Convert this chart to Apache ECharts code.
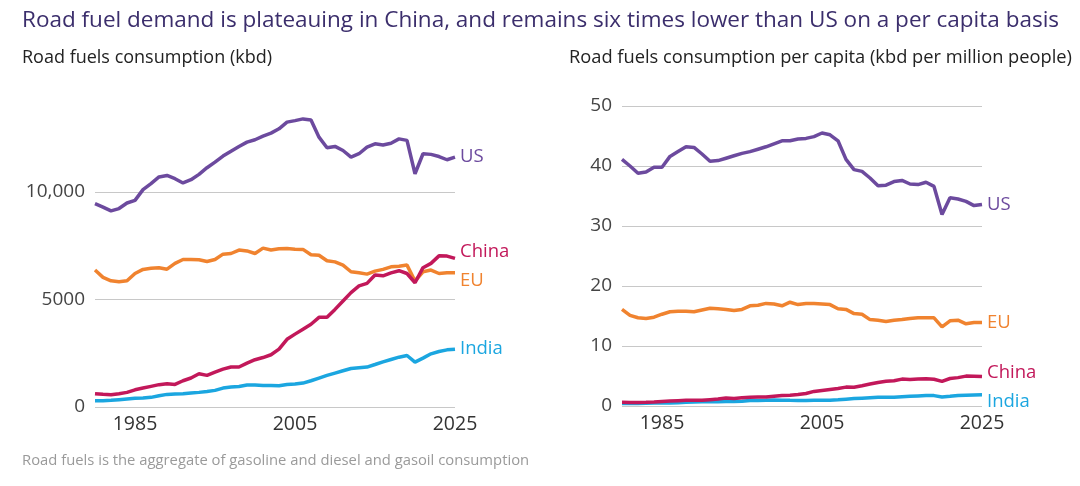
<!DOCTYPE html>
<html>
<head>
<meta charset="utf-8">
<script src="https://cdn.jsdelivr.net/npm/echarts@6/dist/echarts.min.js"></script>
<style>
html,body{margin:0;padding:0;background:#fff;}
#c{width:1080px;height:486px;}
</style>
</head>
<body>
<div id="c"></div>
<script>
var years = [];
for (var y = 1980; y <= 2025; y++) years.push(String(y));
var xTickLabels = ['1985', '2005', '2025'];
var leftYTicks = [0, 5000, 10000];
var rightYTicks = [0, 10, 20, 30, 40, 50];

// Road fuels consumption (kbd)
var usKbd = [9460,9300,9120,9230,9490,9610,10110,10390,10700,10770,10620,10420,10570,10820,11130,11390,11670,11900,12120,12320,12430,12600,12740,12940,13250,13320,13400,13350,12550,12060,12120,11930,11620,11780,12090,12240,12190,12270,12470,12400,10850,11780,11750,11650,11500,11620];
var euKbd = [6370,6030,5870,5830,5870,6210,6400,6450,6480,6410,6680,6860,6860,6850,6770,6860,7110,7140,7300,7260,7140,7390,7300,7360,7370,7340,7330,7080,7060,6800,6750,6600,6290,6240,6180,6320,6400,6520,6550,6600,5860,6290,6370,6210,6240,6240];
var chinaKbd = [620,590,570,620,680,800,880,960,1040,1080,1050,1220,1350,1550,1470,1620,1760,1860,1860,2040,2200,2300,2430,2690,3150,3390,3620,3850,4170,4170,4540,4930,5320,5630,5750,6140,6100,6240,6340,6210,5780,6480,6680,7030,7020,6910];
var indiaKbd = [294,294,309,340,371,402,417,448,525,587,603,618,649,680,726,773,881,927,958,1020,1020,1005,1005,989,1051,1066,1113,1221,1345,1468,1577,1685,1793,1824,1855,1978,2102,2210,2318,2396,2087,2272,2473,2581,2658,2689];

// Road fuels consumption per capita (kbd per million people)
var usPc = [41.1,40.0,38.8,39.0,39.8,39.8,41.6,42.4,43.2,43.1,42.0,40.8,40.9,41.3,41.7,42.1,42.4,42.8,43.2,43.7,44.2,44.2,44.5,44.6,44.9,45.5,45.2,44.2,41.1,39.4,39.1,38.0,36.7,36.8,37.4,37.6,37.0,36.9,37.3,36.6,31.9,34.7,34.5,34.1,33.4,33.6];
var euPc = [16.1,15.1,14.7,14.6,14.8,15.3,15.7,15.8,15.8,15.7,16.0,16.3,16.2,16.1,15.9,16.1,16.7,16.8,17.1,17.0,16.7,17.3,16.9,17.1,17.1,17.0,16.9,16.2,16.1,15.4,15.3,14.4,14.3,14.1,14.3,14.4,14.6,14.7,14.7,14.7,13.2,14.2,14.3,13.7,13.9,13.9];
var chinaPc = [0.62,0.60,0.60,0.62,0.66,0.76,0.82,0.88,0.94,0.97,0.94,1.05,1.15,1.32,1.24,1.36,1.45,1.50,1.50,1.63,1.74,1.81,1.90,2.08,2.43,2.60,2.76,2.92,3.15,3.13,3.39,3.66,3.93,4.14,4.22,4.48,4.43,4.51,4.56,4.45,4.10,4.58,4.73,4.98,4.97,4.90];
var indiaPc = [0.42,0.41,0.42,0.45,0.48,0.51,0.52,0.54,0.62,0.68,0.69,0.69,0.71,0.73,0.77,0.80,0.90,0.93,0.94,0.98,0.97,0.94,0.92,0.90,0.94,0.94,0.97,1.05,1.14,1.23,1.30,1.37,1.44,1.45,1.45,1.53,1.61,1.68,1.74,1.73,1.50,1.62,1.75,1.80,1.84,1.86];

var colors = {US:'#6c4a9e', China:'#c2185a', EU:'#f0832f', India:'#1ba6e0'};
var FONT = '"Open Sans", "Noto Sans", sans-serif';

function mkSeries(name, data, axisIdx, dy) {
  return {
    type: 'line', name: name, data: data,
    xAxisIndex: axisIdx, yAxisIndex: axisIdx,
    showSymbol: false, symbol: 'none', clip: false, smooth: false,
    lineStyle: {color: colors[name], width: 3.5},
    itemStyle: {color: colors[name]},
    endLabel: {show: true, formatter: name, color: colors[name], fontSize: 18.5,
      fontFamily: FONT, distance: 5, offset: [0, dy]},
    emphasis: {disabled: true},
    animation: false
  };
}

function xAxisCfg(idx) {
  return {
    type: 'category', gridIndex: idx, data: years, boundaryGap: false,
    axisLine: {show: false}, axisTick: {show: false},
    axisLabel: {
      color: '#333', fontSize: 19.5, fontFamily: FONT, margin: 7,
      interval: function (i, v) { return xTickLabels.indexOf(v) >= 0; }
    },
    splitLine: {show: false}
  };
}

function yAxisCfg(idx, ticks, fmt) {
  return {
    type: 'value', gridIndex: idx,
    min: ticks[0], max: ticks[ticks.length - 1], interval: ticks[1] - ticks[0],
    axisLine: {show: false}, axisTick: {show: false},
    axisLabel: {color: '#444', fontSize: 19, fontFamily: FONT, margin: 10, formatter: fmt},
    splitLine: {show: true, lineStyle: {color: '#c8c8c8', width: 1}}
  };
}

var chart = echarts.init(document.getElementById('c'), null, {renderer: 'canvas'});
chart.setOption({
  backgroundColor: '#fff',
  animation: false,
  title: [
    {text: 'Road fuel demand is plateauing in China, and remains six times lower than US on a per capita basis',
      left: 17, top: 4, textStyle: {color: '#3b2e6c', fontSize: 22.5, fontWeight: 500, fontFamily: FONT}},
    {text: 'Road fuels consumption (kbd)', left: 17, top: 44,
      textStyle: {color: '#222', fontSize: 18, fontWeight: 'normal', fontFamily: FONT}},
    {text: 'Road fuels consumption per capita (kbd per million people)', left: 564, top: 44,
      textStyle: {color: '#222', fontSize: 18.3, fontWeight: 'normal', fontFamily: FONT}},
    {text: 'Road fuels is the aggregate of gasoline and diesel and gasoil consumption', left: 17, top: 448,
      textStyle: {color: '#9a9a9a', fontSize: 14.8, fontWeight: 'normal', fontFamily: FONT}}
  ],
  grid: [
    {left: 95, right: 625, top: 192, bottom: 79},
    {left: 622, right: 98, top: 106, bottom: 80}
  ],
  xAxis: [xAxisCfg(0), xAxisCfg(1)],
  yAxis: [
    yAxisCfg(0, leftYTicks, function (v) { return v >= 10000 ? v.toLocaleString('en-US') : String(v); }),
    yAxisCfg(1, rightYTicks, function (v) { return String(v); })
  ],
  series: [
    mkSeries('EU', euKbd, 0, 8),
    mkSeries('India', indiaKbd, 0, 0),
    mkSeries('China', chinaKbd, 0, -7),
    mkSeries('US', usKbd, 0, 0),
    mkSeries('EU', euPc, 1, 0),
    mkSeries('India', indiaPc, 1, 7),
    mkSeries('China', chinaPc, 1, -4),
    mkSeries('US', usPc, 1, 0)
  ]
});
</script>
</body>
</html>
